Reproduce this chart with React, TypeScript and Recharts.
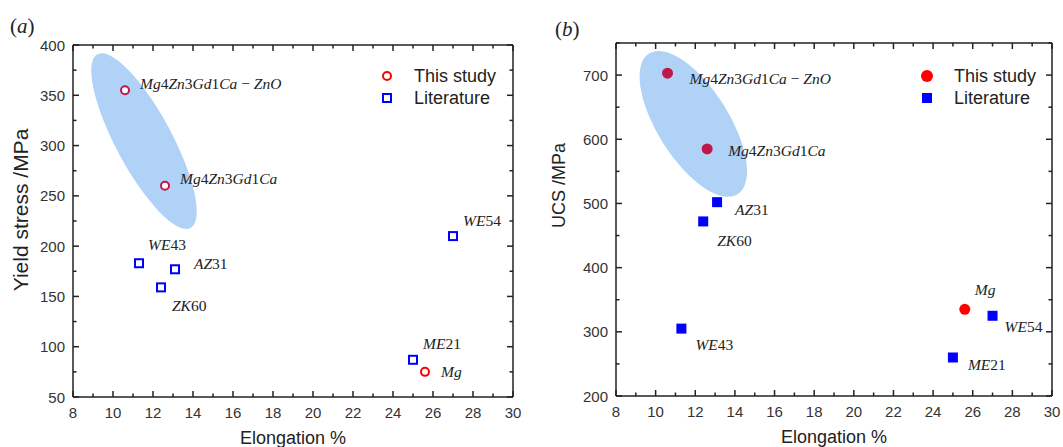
import React from 'react'
import {
  ScatterChart, Scatter, XAxis, YAxis, Legend, Label
} from 'recharts'

// alloys from this study
const STUDY_NAMES = ['Mg4Zn3Gd1Ca \u2212 ZnO', 'Mg4Zn3Gd1Ca', 'Mg']
const STUDY_ELONG = [10.6, 12.6, 25.6]
const STUDY_YIELD = [355, 260, 75]
const STUDY_UCS = [703, 585, 335]

// literature alloys
const LIT_NAMES = ['WE43', 'AZ31', 'ZK60', 'WE54', 'ME21']
const LIT_ELONG = [11.3, 13.1, 12.4, 27.0, 25.0]
const LIT_YIELD = [183, 177, 159, 210, 87]
const LIT_UCS = [305, 502, 472, 325, 260]

// centre of the shaded region round the two new alloys
const HIGHLIGHT_ELONG = [11.55, 11.9]
const HIGHLIGHT_STRESS = [304.5, 624]

const SERIES = ['This study', 'Literature']

const X_TICKS = [8, 9, 10, 11, 12, 13, 14, 15, 16, 17, 18, 19, 20, 21, 22, 23, 24, 25, 26, 27, 28, 29, 30]
const YIELD_TICKS = [50, 75, 100, 125, 150, 175, 200, 225, 250, 275, 300, 325, 350, 375, 400]
const UCS_TICKS = [200, 250, 300, 350, 400, 450, 500, 550, 600, 650, 700, 750]

const SANS = '"Liberation Sans", Arial, sans-serif'
const SERIF = '"Liberation Serif", "Times New Roman", serif'
const INK = '#222'
const CRIMSON = '#c0174a'
const RED = '#ff0000'
const BLUE = '#0000ff'
const SHADE = '#b0d2f6'

const pointColor: Record<string, string> = {
  'Mg4Zn3Gd1Ca \u2212 ZnO': CRIMSON,
  Mg4Zn3Gd1Ca: CRIMSON,
  Mg: RED,
}

// label offsets (px) from the marker: left edge / vertical centre
const LABELS_A: Record<string, [number, number]> = {
  'Mg4Zn3Gd1Ca \u2212 ZnO': [15, -7],
  Mg4Zn3Gd1Ca: [15, -8],
  Mg: [16, -1],
  WE43: [9, -19],
  AZ31: [19, -6],
  ZK60: [11, 18],
  WE54: [10, -16],
  ME21: [10, -17],
}
const LABELS_B: Record<string, [number, number]> = {
  'Mg4Zn3Gd1Ca \u2212 ZnO': [22, 5],
  Mg4Zn3Gd1Ca: [21, 1],
  Mg: [10, -20],
  WE43: [14, 15],
  AZ31: [18, 7],
  ZK60: [14, 19],
  WE54: [12, 10],
  ME21: [15, 7],
}

// italic letters, upright digits and signs
function MathText({ x, y, text, size }: { x: number; y: number; text: string; size: number }) {
  const runs = text.split(/([A-Za-z]+)/).filter(s => s.length > 0)
  return (
    <text x={x} y={y} fontFamily={SERIF} fontSize={size} fill={INK} dominantBaseline="central">
      {runs.map((r, i) => (
        <tspan key={i} fontStyle={/[A-Za-z]/.test(r) ? 'italic' : 'normal'}>{r}</tspan>
      ))}
    </text>
  )
}

function XTick(props: any) {
  const { x, y, payload, side } = props
  const major = payload.value % 2 === 0
  const len = major ? 6 : 3.5
  const dir = side === 'bottom' ? -1 : 1
  return (
    <g>
      <line x1={x} y1={y} x2={x} y2={y + dir * len} stroke={INK} strokeWidth={1.5} />
      {side === 'bottom' && major && (
        <text x={x} y={y + 15} textAnchor="middle" dominantBaseline="central"
          fontFamily={SANS} fontSize={15} fill="#333">{payload.value}</text>
      )}
    </g>
  )
}

function YTick(props: any) {
  const { x, y, payload, side, step } = props
  const major = payload.value % step === 0
  const len = major ? 6 : 3.5
  const dir = side === 'left' ? 1 : -1
  return (
    <g>
      <line x1={x} y1={y} x2={x + dir * len} y2={y} stroke={INK} strokeWidth={1.5} />
      {side === 'left' && major && (
        <text x={x - 8} y={y} textAnchor="end" dominantBaseline="central"
          fontFamily={SANS} fontSize={15} fill="#333">{payload.value}</text>
      )}
    </g>
  )
}

function LegendBox({ payload, filled }: any) {
  const entries = SERIES
    .map(name => (payload || []).find((e: any) => e.value === name))
    .filter(Boolean)
  return (
    <div style={{ fontFamily: SANS, fontSize: 18, color: INK }}>
      {entries.map((entry: any) => {
        const study = entry.value === 'This study'
        return (
          <div key={entry.value} style={{ display: 'flex', alignItems: 'center', height: 22 }}>
            <svg width={20} height={22} style={{ marginRight: 17 }}>
              {study
                ? (filled
                  ? <circle cx={10} cy={11} r={6} fill={RED} />
                  : <circle cx={10} cy={11} r={4} fill="none" stroke={RED} strokeWidth={2} />)
                : (filled
                  ? <rect x={5} y={6} width={10} height={10} fill={BLUE} />
                  : <rect x={6} y={7} width={8} height={8} fill="none" stroke={BLUE} strokeWidth={2} />)}
            </svg>
            <span>{entry.value}</span>
          </div>
        )
      })}
    </div>
  )
}

interface PanelProps {
  width: number
  margin: { top: number; right: number; bottom: number; left: number }
  stress: number[]
  litStress: number[]
  yDomain: [number, number]
  yTicks: number[]
  yStep: number
  yTitle: string
  yTitleSize: number
  yTitleShift: [number, number]
  filled: boolean
  labels: Record<string, [number, number]>
  region: { idx: number; rx: number; ry: number; angle: number }
}

function Panel(p: PanelProps) {
  const study = STUDY_NAMES.map((name, i) => ({ name, x: STUDY_ELONG[i], y: p.stress[i] }))
  const lit = LIT_NAMES.map((name, i) => ({ name, x: LIT_ELONG[i], y: p.litStress[i] }))
  const region = [{ x: HIGHLIGHT_ELONG[p.region.idx], y: HIGHLIGHT_STRESS[p.region.idx] }]

  const studyShape = (s: any) => {
    const { cx, cy, payload } = s
    const c = pointColor[payload.name]
    const [dx, dy] = p.labels[payload.name]
    return (
      <g>
        {p.filled
          ? <circle cx={cx} cy={cy} r={5.5} fill={c} />
          : <circle cx={cx} cy={cy} r={4} fill="#fff" stroke={c} strokeWidth={2} />}
        <MathText x={cx + dx} y={cy + dy} text={payload.name} size={15.5} />
      </g>
    )
  }
  const litShape = (s: any) => {
    const { cx, cy, payload } = s
    const [dx, dy] = p.labels[payload.name]
    return (
      <g>
        {p.filled
          ? <rect x={cx - 5} y={cy - 5} width={10} height={10} fill={BLUE} />
          : <rect x={cx - 4} y={cy - 4} width={8} height={8} fill="#fff" stroke={BLUE} strokeWidth={2} />}
        <MathText x={cx + dx} y={cy + dy} text={payload.name} size={15.5} />
      </g>
    )
  }
  const regionShape = (s: any) => (
    <ellipse cx={s.cx} cy={s.cy} rx={p.region.rx} ry={p.region.ry}
      transform={`rotate(${p.region.angle} ${s.cx} ${s.cy})`} fill={SHADE} />
  )

  const axisLine = { stroke: INK, strokeWidth: 1.5 }

  return (
    <ScatterChart width={p.width} height={447} margin={p.margin}>
      <XAxis type="number" dataKey="x" domain={[8, 30]} ticks={X_TICKS} interval={0}
        tickSize={0} tickMargin={0} tickLine={false} axisLine={axisLine} height={30}
        tick={(t: any) => <XTick {...t} side="bottom" />}>
        <Label content={({ viewBox }: any) => (
          <text x={viewBox.x + viewBox.width / 2} y={viewBox.y + 41} textAnchor="middle"
            dominantBaseline="central" fontFamily={SANS} fontSize={18} fill={INK}>Elongation %</text>
        )} />
      </XAxis>
      <XAxis xAxisId="top" orientation="top" type="number" dataKey="x" domain={[8, 30]} ticks={X_TICKS}
        interval={0} tickSize={0} tickMargin={0} tickLine={false} axisLine={axisLine} height={1}
        tick={(t: any) => <XTick {...t} side="top" />} />
      <YAxis type="number" dataKey="y" domain={p.yDomain} ticks={p.yTicks} interval={0}
        tickSize={0} tickMargin={0} tickLine={false} axisLine={axisLine} width={50}
        tick={(t: any) => <YTick {...t} side="left" step={p.yStep} />}>
        <Label content={({ viewBox }: any) => {
          const x = viewBox.x + p.yTitleShift[0]
          const y = viewBox.y + viewBox.height / 2 + p.yTitleShift[1]
          return (
            <text x={x} y={y} transform={`rotate(-90 ${x} ${y})`} textAnchor="middle"
              dominantBaseline="central" fontFamily={SANS} fontSize={p.yTitleSize} fill={INK}>{p.yTitle}</text>
          )
        }} />
      </YAxis>
      <YAxis yAxisId="right" orientation="right" type="number" dataKey="y" domain={p.yDomain} ticks={p.yTicks}
        interval={0} tickSize={0} tickMargin={0} tickLine={false} axisLine={axisLine} width={1}
        tick={(t: any) => <YTick {...t} side="right" step={p.yStep} />} />
      <Legend layout="vertical" align="center" verticalAlign="middle"
        wrapperStyle={{ top: 65, left: 377, width: 'auto', height: 'auto' }}
        content={(lp: any) => <LegendBox {...lp} filled={p.filled} />} />
      <Scatter name="region" data={region} xAxisId="top" yAxisId="right" legendType="none"
        shape={regionShape} isAnimationActive={false} />
      <Scatter name="This study" data={study} fill={RED} shape={studyShape} isAnimationActive={false} />
      <Scatter name="Literature" data={lit} fill={BLUE} shape={litShape} isAnimationActive={false} />
    </ScatterChart>
  )
}

export default function App() {
  return (
    <div style={{ position: 'relative', width: 1063, height: 447, background: '#fff' }}>
      <style>{'body{margin:0}'}</style>
      <div style={{ position: 'absolute', left: 10, top: 14, fontFamily: SERIF, fontSize: 21, color: INK }}>
        (<i>a</i>)
      </div>
      <div style={{ position: 'absolute', left: 555, top: 17, fontFamily: SERIF, fontSize: 21, color: INK }}>
        (<i>b</i>)
      </div>
      <div style={{ position: 'absolute', left: 0, top: 0 }}>
        <Panel
          width={540}
          margin={{ top: 44, right: 26, bottom: 20, left: 23 }}
          stress={STUDY_YIELD}
          litStress={LIT_YIELD}
          yDomain={[50, 400]}
          yTicks={YIELD_TICKS}
          yStep={50}
          yTitle="Yield stress /MPa"
          yTitleSize={21}
          yTitleShift={[-3, -11]}
          filled={false}
          labels={LABELS_A}
          region={{ idx: 0, rx: 98.6, ry: 28.1, angle: 61.8 }}
        />
      </div>
      <div style={{ position: 'absolute', left: 540, top: 0 }}>
        <Panel
          width={523}
          margin={{ top: 42, right: 10, bottom: 21, left: 26 }}
          stress={STUDY_UCS}
          litStress={LIT_UCS}
          yDomain={[200, 750]}
          yTicks={UCS_TICKS}
          yStep={100}
          yTitle="UCS /MPa"
          yTitleSize={18}
          yTitleShift={[-7, -34]}
          filled={true}
          labels={LABELS_B}
          region={{ idx: 1, rx: 83.2, ry: 35.8, angle: 57.8 }}
        />
      </div>
    </div>
  )
}
